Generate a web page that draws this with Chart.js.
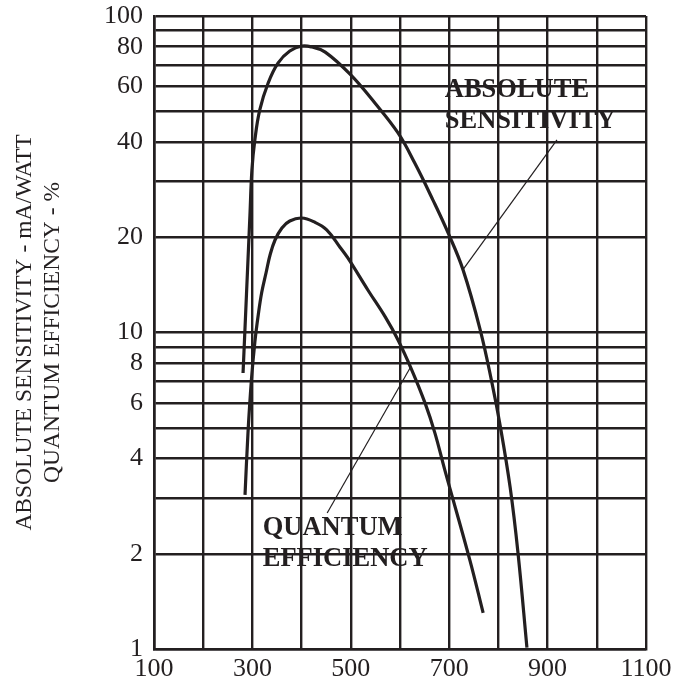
<!DOCTYPE html>
<html>
<head>
<meta charset="utf-8">
<script src="https://cdn.jsdelivr.net/npm/chart.js@4.4.0/dist/chart.umd.min.js"></script>
<style>
  html, body { margin: 0; padding: 0; background: #fff; }
  #wrap { width: 686px; height: 686px; }
</style>
</head>
<body>
<div id="wrap"><canvas id="chart"></canvas></div>
<script>
// Axis ticks and labels
const wavelengthTicks = [100, 200, 300, 400, 500, 600, 700, 800, 900, 1000, 1100];
const wavelengthLabels = [100, 300, 500, 700, 900, 1100];
const yTicks = [1, 2, 3, 4, 5, 6, 7, 8, 9, 10, 20, 30, 40, 50, 60, 70, 80, 90, 100];
const yLabels = [1, 2, 4, 6, 8, 10, 20, 40, 60, 80, 100];

// Absolute sensitivity (mA/W)
const sensWavelength = [281, 295, 299, 305, 315, 332, 352, 376, 401, 421, 448, 498, 549, 596, 630, 667, 698, 728, 763, 787, 803, 824, 840, 858];
const sensValues = [7.45, 23.5, 32.6, 40.6, 50.5, 61.4, 71, 77.5, 80.4, 79.8, 76.9, 65.6, 53.1, 42.7, 34.3, 26.2, 20.6, 15.8, 10.2, 6.92, 5.14, 3.23, 2.0, 1.01];

// Quantum efficiency (%)
const qeWavelength = [285, 291, 298, 305, 312, 319, 328, 336, 346, 360, 376, 400, 427, 451, 478, 494, 535, 570, 596, 624, 651, 671, 691, 742, 769];
const qeValues = [3.07, 4.81, 7.08, 9.33, 11.4, 13.4, 15.5, 17.6, 19.6, 21.4, 22.5, 23.0, 22.3, 21.1, 18.6, 17.2, 13.6, 11.2, 9.47, 7.61, 5.98, 4.81, 3.68, 1.91, 1.3];

// Leader lines from the labels to the curves
const sensPointerX = [919, 728];
const sensPointerY = [40.6, 15.8];
const qePointerX = [452, 621];
const qePointerY = [2.69, 7.75];

// Curve labels
const curveLabels = [
  {text: 'ABSOLUTE', x: 691, y: 58.4},
  {text: 'SENSITIVITY', x: 691, y: 46.6},
  {text: 'QUANTUM', x: 321, y: 2.41},
  {text: 'EFFICIENCY', x: 321, y: 1.92}
];

const ink = '#231f20';
const serif = '"Liberation Serif", "Times New Roman", serif';

const toPoints = (xs, ys) => xs.map((x, i) => ({x: x, y: ys[i]}));

const labelPlugin = {
  id: 'curveLabels',
  afterDatasetsDraw(chart) {
    const {ctx, scales} = chart;
    ctx.save();
    ctx.fillStyle = ink;
    ctx.font = 'bold 26.5px ' + serif;
    ctx.textAlign = 'left';
    ctx.textBaseline = 'middle';
    curveLabels.forEach(label => {
      ctx.fillText(label.text, scales.x.getPixelForValue(label.x), scales.y.getPixelForValue(label.y));
    });
    ctx.restore();
  }
};

const curveStyle = {
  borderColor: ink,
  borderWidth: 3.2,
  pointRadius: 0,
  fill: false,
  tension: 0.4
};

const pointerStyle = {
  borderColor: ink,
  borderWidth: 1.2,
  pointRadius: 0,
  fill: false,
  tension: 0
};

function drawChart() {
  new Chart(document.getElementById('chart'), {
    type: 'line',
    data: {
      datasets: [
        {...curveStyle, label: 'Absolute sensitivity', data: toPoints(sensWavelength, sensValues)},
        {...curveStyle, label: 'Quantum efficiency', data: toPoints(qeWavelength, qeValues)},
        {...pointerStyle, label: 'sens pointer', data: toPoints(sensPointerX, sensPointerY)},
        {...pointerStyle, label: 'qe pointer', data: toPoints(qePointerX, qePointerY)}
      ]
    },
    options: {
      responsive: true,
      maintainAspectRatio: false,
      animation: false,
      layout: {
        padding: {top: 16, right: 40, bottom: 0, left: 0}
      },
      plugins: {
        legend: {display: false},
        tooltip: {enabled: false},
        title: {display: false}
      },
      scales: {
        x: {
          type: 'linear',
          min: 100,
          max: 1100,
          afterBuildTicks: (scale) => {
            scale.ticks = wavelengthTicks.map(v => ({value: v}));
          },
          afterFit: (scale) => {
            scale.height = 37;
            scale.paddingLeft = 0;
            scale.paddingRight = 0;
          },
          ticks: {
            autoSkip: false,
            maxRotation: 0,
            padding: 5,
            color: ink,
            font: {family: serif, size: 26},
            callback: (value) => wavelengthLabels.includes(value) ? String(value) : ''
          },
          grid: {
            color: ink,
            lineWidth: 2.4,
            drawTicks: false
          },
          border: {color: ink, width: 2.6}
        },
        y: {
          type: 'logarithmic',
          min: 1,
          max: 100,
          afterBuildTicks: (scale) => {
            scale.ticks = yTicks.map(v => ({value: v}));
          },
          afterFit: (scale) => {
            scale.width = 154;
            scale.paddingTop = 0;
            scale.paddingBottom = 0;
          },
          ticks: {
            autoSkip: false,
            padding: 11,
            color: ink,
            font: {family: serif, size: 26},
            callback: (value) => yLabels.includes(value) ? String(value) : ''
          },
          grid: {
            color: ink,
            lineWidth: 2.4,
            drawTicks: false
          },
          border: {color: ink, width: 2.6},
          title: {
            display: true,
            text: ['ABSOLUTE SENSITIVITY - mA/WATT', 'QUANTUM EFFICIENCY - %'],
            color: ink,
            font: {family: serif, size: 23.5, lineHeight: 1.2},
            padding: {top: 11, bottom: 0}
          }
        }
      }
    },
    plugins: [labelPlugin]
  });
}

// Make sure the serif face is ready before the canvas draws text
Promise.all([
  document.fonts.load('26px "Liberation Serif"'),
  document.fonts.load('bold 26px "Liberation Serif"')
]).then(drawChart, drawChart);
</script>
</body>
</html>
